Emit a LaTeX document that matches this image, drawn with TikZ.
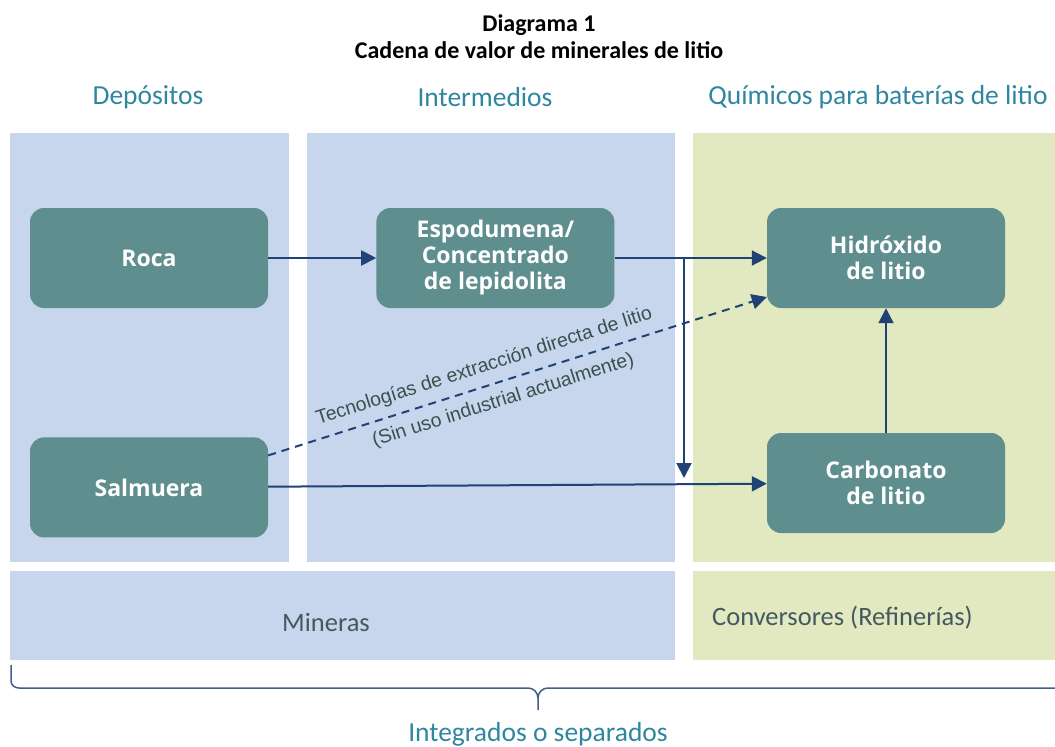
\documentclass[tikz,border=0pt]{standalone}
\usepackage{fontspec}
\setmainfont{Carlito}
\newfontfamily\boxfont{Open Sans}
\newfontfamily\notefont{Liberation Sans}
\usetikzlibrary{arrows.meta,positioning,calc}

\definecolor{panelblue}{RGB}{199,213,237}
\definecolor{panelgreen}{RGB}{226,233,192}
\definecolor{boxteal}{RGB}{94,142,142}
\definecolor{flowblue}{RGB}{33,66,117}
\definecolor{headteal}{RGB}{47,134,160}
\definecolor{labelgray}{RGB}{66,90,95}
\definecolor{notegray}{RGB}{55,82,78}

\begin{document}
\begin{tikzpicture}[
  x=1pt, y=-1pt,
  stage/.style = {fill=boxteal, rounded corners=14pt, minimum width=238pt,
                  minimum height=100pt, align=center, text=white, inner sep=0pt,
                  font=\boxfont\bfseries\fontsize{23}{26}\selectfont},
  head/.style  = {text=headteal, inner sep=0pt, font=\fontsize{27.5}{32}\selectfont},
  role/.style  = {text=labelgray, inner sep=0pt, font=\fontsize{26.5}{30}\selectfont},
  flow/.style  = {-{Triangle[length=15pt,width=15pt]}, line width=2pt, draw=flowblue},
  note/.style  = {text=notegray, inner sep=0pt, font=\notefont\fontsize{19.5}{22}\selectfont},
  brace/.style = {draw=flowblue!85!white, line width=1.5pt},
]
\useasboundingbox (0,0) rectangle (1055,747);

% ----------------------------- panels -------------------------------------
\fill[panelblue]  (10,133)  rectangle (289,562);
\fill[panelblue]  (307,133) rectangle (675,562);
\fill[panelgreen] (693,133) rectangle (1055,562);
\fill[panelblue]  (10,571)  rectangle (675,660);
\fill[panelgreen] (693,571) rectangle (1055,660);

% ----------------------------- titles -------------------------------------
\node[align=center, inner sep=0pt, font=\bfseries\fontsize{24}{27}\selectfont]
  (title) at (539,37) {Diagrama 1\\Cadena de valor de minerales de litio};
\node[head] (hdep) at (148,97) {Depósitos};
\node[head] (hint) at (485,97) {Intermedios};
\node[head] (hqui) at (878,97) {Químicos para baterías de litio};

% ----------------------------- stages -------------------------------------
\node[stage] (roca) at (149,258) {Roca};
\node[stage, right=108pt of roca] (espo) {Espodumena/\\Concentrado\\de lepidolita};
\node[stage] (hidro) at (886,258) {Hidróxido\\de litio};
\node[stage, below=129pt of roca] (salm) {Salmuera};
\node[stage] (carbo) at (886,483) {Carbonato\\de litio};

% ----------------------------- flows --------------------------------------
\coordinate (split) at (684,259);
\coordinate (drop) at (684,478);
\draw[flow] (roca) -- (espo);
\draw[flow] (espo) -- (hidro);
\draw[flow] (split) -- (drop);
\draw[flow] (salm) -- (carbo);
\draw[flow] (carbo) -- (hidro);
\draw[flow, dash pattern=on 8pt off 6pt]
  ($(salm.east)+(0,-32)$) -- ($(hidro.west)+(0,39)$)
  node[note, pos=0.445, sloped, above=9pt] (dle) {Tecnologías de extracción directa de litio}
  node[note, pos=0.46, sloped, below=9pt] (dlen) {(Sin uso industrial actualmente)};

% ----------------------------- roles --------------------------------------
\node[role] (miner) at (326,622) {Mineras};
\node[role, anchor=west] (conv) at (712,618) {Conversores (Refinerías)};

% ----------------------------- brace --------------------------------------
\draw[brace] (11,665) -- (11,681) to[out=-90,in=180] (19,688) -- (528,688)
  to[out=0,in=90] (538,698) -- (538,710);
\draw[brace] (538,698) to[out=90,in=180] (548,688) -- (1055,688);
\node[head] (integ) at (538,734) {Integrados o separados};

\end{tikzpicture}
\end{document}
